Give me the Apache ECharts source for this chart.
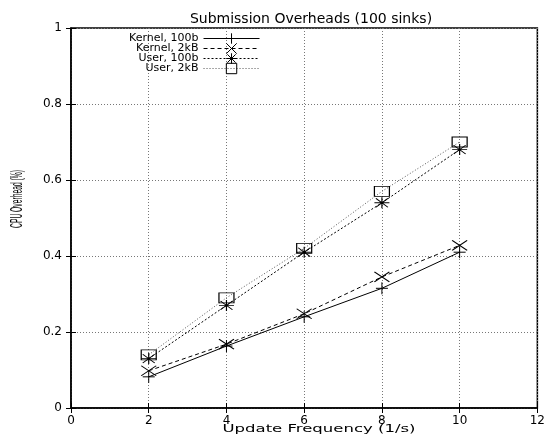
<!DOCTYPE html>
<html>
<head>
<meta charset="utf-8">
<script src="https://cdn.jsdelivr.net/npm/echarts@6/dist/echarts.min.js"></script>
<style>
  html, body { margin: 0; padding: 0; background: #fff; }
  #chart { width: 548px; height: 435px; }
</style>
</head>
<body>
<div id="chart"></div>
<script>
// 数据
var freq = [2, 4, 6, 8, 10];
var kernel100b = [0.082, 0.163, 0.24, 0.315, 0.41];
var kernel2kB = [0.098, 0.168, 0.248, 0.345, 0.428];
var user100b = [0.13, 0.27, 0.41, 0.54, 0.68];
var user2kB = [0.14, 0.29, 0.42, 0.57, 0.70];
var names = ['Kernel, 100b', 'Kernel, 2kB', 'User, 100b', 'User, 2kB'];

function pairs(ys) {
    return freq.map(function (x, i) { return [x, ys[i]]; });
}

var font = 'DejaVu Sans, sans-serif';
var plusPath = 'path://M0,5 L10,5 M5,0 L5,10';
var crossPath = 'path://M0,0 L10,10 M10,0 L0,10';
var starPath = 'path://M0,5 L10,5 M5,0 L5,10 M1,1 L9,9 M9,1 L1,9';

function mkSeries(name, ys, symbol, size, lineType, lineColor) {
    return {
        name: name,
        type: 'line',
        data: pairs(ys),
        symbol: symbol,
        symbolSize: size,
        xAxisIndex: 0,
        yAxisIndex: 0,
        lineStyle: { color: lineColor, width: 1, type: lineType },
        itemStyle: { color: 'rgba(0,0,0,0)', borderColor: '#000', borderWidth: 1 },
        emphasis: { disabled: true },
        animation: false
    };
}

var chart = echarts.init(document.getElementById('chart'));
var gridLine = { show: true, lineStyle: { color: '#777', type: [1, 2], width: 1 } };
var tick = { show: true, inside: true, length: 5, lineStyle: { color: '#000' } };
var option = {
    backgroundColor: '#fff',
    textStyle: { fontFamily: font, color: '#000' },
    title: {
        text: 'Submission Overheads (100 sinks)',
        left: 306,
        textAlign: 'center',
        top: 7,
        textStyle: { fontFamily: font, fontSize: 14, fontWeight: 'normal', color: '#000' }
    },
    legend: {
        orient: 'vertical',
        align: 'right',
        left: 124,
        top: 27,
        itemWidth: 56,
        itemHeight: 13,
        itemGap: -3,
        data: names,
        lineStyle: { width: 1 },
        itemStyle: { color: 'rgba(0,0,0,0)', borderColor: '#000', borderWidth: 1 },
        textStyle: { fontFamily: font, fontSize: 11, lineHeight: 13, color: '#000' }
    },
    graphic: [{
        type: 'text',
        x: 17,
        y: 199,
        rotation: Math.PI / 2,
        scaleX: 0.56,
        scaleY: 1.4,
        style: {
            text: 'CPU Overhead (%)',
            fontFamily: 'Liberation Sans, Arial, sans-serif',
            fontSize: 12,
            fill: '#000',
            align: 'center',
            verticalAlign: 'middle'
        }
    }, {
        type: 'text',
        x: 319,
        y: 429,
        scaleX: 1.5,
        style: {
            text: 'Update Frequency (1/s)',
            fontFamily: font,
            fontSize: 11,
            fill: '#000',
            align: 'center',
            verticalAlign: 'middle'
        }
    }],
    grid: {
        left: 71, right: 7, top: 28, bottom: 27,
        show: true, borderColor: '#000', borderWidth: 1.5
    },
    xAxis: [{
        type: 'value',
        min: 0, max: 12, interval: 2,
        axisLine: { show: true, lineStyle: { color: '#000', width: 1.5 } },
        axisTick: tick,
        axisLabel: { fontFamily: font, fontSize: 12, color: '#000', margin: 7 },
        splitLine: gridLine
    }, {
        type: 'value',
        position: 'top',
        min: 0, max: 12, interval: 2,
        axisLine: { show: false },
        axisTick: tick,
        axisLabel: { show: false },
        splitLine: { show: false }
    }],
    yAxis: [{
        type: 'value',
        min: 0, max: 1, interval: 0.2,
        axisLine: { show: true, lineStyle: { color: '#000', width: 1.5 } },
        axisTick: tick,
        axisLabel: { fontFamily: font, fontSize: 12, color: '#000', margin: 9 },
        splitLine: gridLine
    }, {
        type: 'value',
        position: 'right',
        min: 0, max: 1, interval: 0.2,
        axisLine: { show: false },
        axisTick: tick,
        axisLabel: { show: false },
        splitLine: { show: false }
    }],
    series: [
        mkSeries(names[0], kernel100b, plusPath, 12, 'solid', '#000'),
        mkSeries(names[1], kernel2kB, crossPath, [15, 10], [4, 3], '#000'),
        mkSeries(names[2], user100b, starPath, [15, 11], [2, 2], '#000'),
        mkSeries(names[3], user2kB, 'rect', [15, 10], [1, 2], '#555')
    ]
};
chart.setOption(option);
</script>
</body>
</html>
